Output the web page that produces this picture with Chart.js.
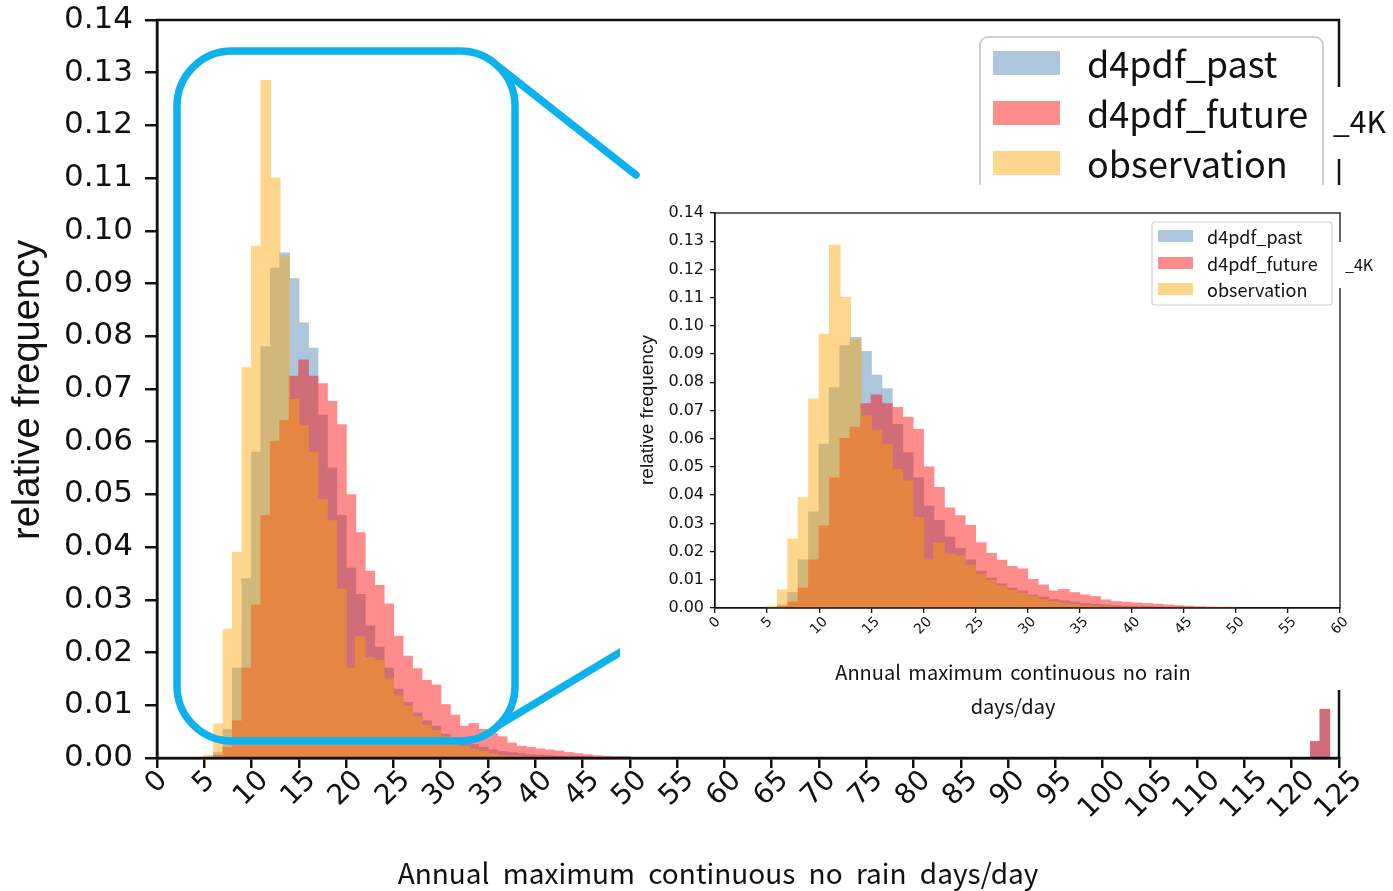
<!DOCTYPE html>
<html>
<head>
<meta charset="utf-8">
<script src="https://cdn.jsdelivr.net/npm/chart.js@4.4.1/dist/chart.umd.min.js"></script>
<style>
  html, body { margin: 0; padding: 0; background: #fff; }
  #wrap { position: relative; width: 1393px; height: 891px; overflow: hidden; background: #fff; }
  #main { position: absolute; left: 0; top: 0; width: 1393px; height: 891px; }
  #inset { position: absolute; left: 620px; top: 185px; width: 773px; height: 540px; }
</style>
</head>
<body>
<div id="wrap">
  <canvas id="main" width="1393" height="891"></canvas>
  <canvas id="inset" width="773" height="540"></canvas>
</div>
<script>
// Histogram bins: left edge of each 1-day bin
const binStart = [5, 6, 7, 8, 9, 10, 11, 12, 13, 14, 15, 16, 17, 18, 19, 20, 21, 22, 23, 24, 25, 26, 27,
                  28, 29, 30, 31, 32, 33, 34, 35, 36, 37, 38, 39, 40, 41, 42, 43, 44, 45, 46, 47, 48, 49];

// Relative frequency per bin
const pastFreq = [0, 0.0010, 0.0054, 0.0170, 0.0340, 0.0580, 0.0780, 0.0929, 0.0958, 0.0909, 0.0825, 0.0777,
                  0.0650, 0.0550, 0.0460, 0.0360, 0.0310, 0.0250, 0.0210, 0.0170, 0.0130, 0.0105, 0.0085,
                  0.0070, 0.0060, 0.0045, 0.0038, 0.0030, 0.0025, 0.0020, 0.0015, 0.0012, 0.0010, 0.0008,
                  0.0006, 0.0005, 0.0004, 0.0003, 0.0002, 0.0002, 0.0001, 0, 0, 0, 0];
const futureFreq = [0, 0.0005, 0.0020, 0.0070, 0.0170, 0.0290, 0.0460, 0.0600, 0.0640, 0.0724, 0.0755, 0.0724,
                    0.0710, 0.0676, 0.0632, 0.0499, 0.0427, 0.0354, 0.0327, 0.0292, 0.0231, 0.0193, 0.0169,
                    0.0147, 0.0138, 0.0101, 0.0081, 0.0060, 0.0065, 0.0054, 0.0046, 0.0040, 0.0028, 0.0022,
                    0.0020, 0.0017, 0.0015, 0.0013, 0.0010, 0.0008, 0.0006, 0.0004, 0.0003, 0.0002, 0.0002];
const obsFreq = [0.0005, 0.0064, 0.0244, 0.0390, 0.0740, 0.0970, 0.1285, 0.1100, 0.0950, 0.0680, 0.0630, 0.0580,
                 0.0490, 0.0450, 0.0320, 0.0170, 0.0230, 0.0190, 0.0185, 0.0150, 0.0118, 0.0098, 0.0078,
                 0.0062, 0.0052, 0.0040, 0.0030, 0.0022, 0.0016, 0.0012, 0.0008, 0.0005, 0.0004, 0.0003,
                 0.0002, 0.0001, 0, 0, 0, 0, 0, 0, 0, 0, 0];

// Far tail of the simulated series
const tailStart = [122, 123];
const pastTail = [0.0031, 0.0092];
const futureTail = [0.0031, 0.0092];

// Axis ticks
const mainXTicks = [0, 5, 10, 15, 20, 25, 30, 35, 40, 45, 50, 55, 60, 65, 70, 75, 80, 85, 90, 95, 100, 105, 110, 115, 120, 125];
const insetXTicks = [0, 5, 10, 15, 20, 25, 30, 35, 40, 45, 50, 55, 60];
const yTicks = [0.00, 0.01, 0.02, 0.03, 0.04, 0.05, 0.06, 0.07, 0.08, 0.09, 0.10, 0.11, 0.12, 0.13, 0.14];

const seriesNames = ['d4pdf_past', 'd4pdf_future', 'observation'];
const scenarioTag = '_4K';
const xTitle = 'Annual maximum continuous no rain days/day';
const xTitleLines = ['Annual maximum continuous no rain', 'days/day'];
const yTitle = 'relative frequency';

// Base colours; each histogram layer is laid down opaque, then blended at ALPHA
const baseColors = ['rgb(70,130,180)', 'rgb(255,0,0)', 'rgb(255,165,0)'];
const ALPHA = 0.45;
const fills = ['rgba(70,130,180,0.45)', 'rgba(255,0,0,0.45)', 'rgba(255,165,0,0.45)'];
const HL = '#0cb1ee';
const LATIN = '"Noto Sans CJK JP", "Noto Sans", sans-serif';
const NUM = '"DejaVu Sans", sans-serif';

function points(starts, vals) {
  return starts.map((s, i) => ({ x: s + 0.5, y: vals[i] }));
}

function buildDatasets(withTail) {
  const sets = [
    { label: seriesNames[0], data: points(binStart, pastFreq).concat(withTail ? points(tailStart, pastTail) : []), order: 3 },
    { label: seriesNames[1], data: points(binStart, futureFreq).concat(withTail ? points(tailStart, futureTail) : []), order: 2 },
    { label: seriesNames[2], data: points(binStart, obsFreq), order: 1 }
  ];
  return sets.map((d, i) => Object.assign(d, {
    backgroundColor: baseColors[i], borderWidth: 0, inflateAmount: 0.6,
    barPercentage: 1, categoryPercentage: 1, grouped: false
  }));
}

// Draw every dataset into its own offscreen layer and blend it as a whole,
// so neighbouring bins do not leave seams between them.
const layerBlend = {
  id: 'layerBlend',
  beforeDatasetDraw(chart, args) {
    if (!chart.$layer) {
      chart.$layer = document.createElement('canvas');
    }
    const L = chart.$layer;
    if (L.width !== chart.canvas.width || L.height !== chart.canvas.height) {
      L.width = chart.canvas.width;
      L.height = chart.canvas.height;
    }
    const lctx = L.getContext('2d');
    lctx.setTransform(1, 0, 0, 1, 0, 0);
    lctx.clearRect(0, 0, L.width, L.height);
    const a = chart.chartArea;
    lctx.save();
    lctx.beginPath();
    lctx.rect(a.left, a.top, a.right - a.left, a.bottom - a.top);
    lctx.clip();
    args.meta.controller._ctx = lctx;
  },
  afterDatasetDraw(chart, args) {
    const lctx = chart.$layer.getContext('2d');
    lctx.restore();
    args.meta.controller._ctx = chart.ctx;
    const ctx = chart.ctx;
    ctx.save();
    ctx.setTransform(1, 0, 0, 1, 0, 0);
    ctx.globalAlpha = ALPHA;
    ctx.drawImage(chart.$layer, 0, 0);
    ctx.restore();
  }
};

function roundRectPath(ctx, x, y, w, h, r) {
  ctx.beginPath();
  ctx.moveTo(x + r, y);
  ctx.lineTo(x + w - r, y);
  ctx.arcTo(x + w, y, x + w, y + r, r);
  ctx.lineTo(x + w, y + h - r);
  ctx.arcTo(x + w, y + h, x + w - r, y + h, r);
  ctx.lineTo(x + r, y + h);
  ctx.arcTo(x, y + h, x, y + h - r, r);
  ctx.lineTo(x, y + r);
  ctx.arcTo(x, y, x + r, y, r);
  ctx.closePath();
}

// Tick labels rotated 45 degrees, centred under each tick
function drawRotatedTicks(ctx, scale, values, size, topY) {
  ctx.save();
  ctx.font = size + 'px ' + NUM;
  ctx.fillStyle = '#111';
  ctx.textAlign = 'center';
  ctx.textBaseline = 'middle';
  values.forEach(v => {
    const txt = String(v);
    const x = scale.getPixelForValue(v);
    const w = ctx.measureText(txt).width;
    const h = size * 0.73;
    const half = (w + h) * Math.SQRT1_2 / 2;
    ctx.save();
    ctx.translate(x, topY + half);
    ctx.rotate(-Math.PI / 4);
    ctx.fillText(txt, 0, 0);
    ctx.restore();
  });
  ctx.restore();
}

function drawLegend(ctx, box, patch, textX, rows, fontSize) {
  ctx.save();
  roundRectPath(ctx, box.x, box.y, box.w, box.h, box.r);
  ctx.fillStyle = '#fff';
  ctx.fill();
  ctx.strokeStyle = '#cfcfcf';
  ctx.lineWidth = box.lw;
  ctx.stroke();
  ctx.font = fontSize + 'px ' + LATIN;
  ctx.textBaseline = 'middle';
  ctx.textAlign = 'left';
  rows.forEach((cy, i) => {
    ctx.fillStyle = fills[i];
    ctx.fillRect(patch.x, cy - patch.h / 2, patch.w, patch.h);
    ctx.fillStyle = '#111';
    ctx.fillText(seriesNames[i], textX, cy + 1);
  });
  ctx.restore();
}

function drawTag(ctx, rect, tx, ty, size) {
  ctx.save();
  ctx.fillStyle = '#fff';
  ctx.fillRect(rect.x, rect.y, rect.w, rect.h);
  ctx.fillStyle = '#111';
  ctx.font = size + 'px ' + LATIN;
  ctx.textAlign = 'left';
  ctx.textBaseline = 'middle';
  ctx.fillText(scenarioTag, tx, ty);
  ctx.restore();
}

function yTitleDraw(ctx, text, cx, cy, size) {
  ctx.save();
  ctx.translate(cx, cy);
  ctx.rotate(-Math.PI / 2);
  ctx.font = size + 'px "Liberation Sans", Arial, sans-serif';
  ctx.fillStyle = '#111';
  ctx.textAlign = 'center';
  ctx.textBaseline = 'middle';
  ctx.fillText(text, 0, 0);
  ctx.restore();
}

function axisCommon(tickLen, lw, fixedSize, isX) {
  return {
    type: 'linear',
    offset: false,
    grid: { display: true, drawOnChartArea: false, drawTicks: true, tickLength: tickLen, color: '#111', lineWidth: lw, offset: false },
    border: { display: true, color: '#111', width: lw },
    afterFit: s => {
      if (isX) { s.height = fixedSize; s.paddingLeft = 0; s.paddingRight = 0; }
      else { s.width = fixedSize; s.paddingTop = 0; s.paddingBottom = 0; }
    }
  };
}

// ---------- main chart ----------
const mainDecor = {
  id: 'mainDecor',
  afterDraw(chart) {
    const ctx = chart.ctx;
    const a = chart.chartArea;
    // frame
    ctx.save();
    ctx.strokeStyle = '#111';
    ctx.lineWidth = 2.5;
    ctx.strokeRect(a.left, a.top, a.right - a.left, a.bottom - a.top);
    ctx.restore();

    drawRotatedTicks(ctx, chart.scales.x, mainXTicks, 28, a.bottom + 11);

    // x title
    ctx.save();
    ctx.font = '28px ' + LATIN;
    ctx.fillStyle = '#111';
    ctx.textAlign = 'center';
    ctx.textBaseline = 'middle';
    if ('wordSpacing' in ctx) ctx.wordSpacing = '7px';
    ctx.fillText(xTitle, 718, 873);
    ctx.restore();

    yTitleDraw(ctx, yTitle, 29, 390, 38);

    drawLegend(ctx, { x: 980, y: 37, w: 343, h: 170, r: 8, lw: 2 }, { x: 993, w: 67, h: 24 }, 1087, [63, 113, 163], 36);
    drawTag(ctx, { x: 1328, y: 87, w: 65, h: 72 }, 1333, 122, 30);

    // highlighted range and its connectors to the zoomed panel
    ctx.save();
    ctx.strokeStyle = HL;
    ctx.lineWidth = 7.5;
    ctx.lineCap = 'round';
    roundRectPath(ctx, 177, 51, 338, 690, 55);
    ctx.stroke();
    ctx.beginPath();
    ctx.moveTo(499, 67);
    ctx.lineTo(636, 175);
    ctx.moveTo(499, 725);
    ctx.lineTo(624, 650);
    ctx.stroke();
    ctx.restore();
  }
};

const mainX = axisCommon(10, 2.5, 133, true);
Object.assign(mainX, {
  min: 0, max: 125,
  afterBuildTicks: s => { s.ticks = mainXTicks.map(v => ({ value: v })); },
  ticks: { display: false }
});
const mainY = axisCommon(12, 2.5, 157, false);
Object.assign(mainY, {
  min: 0, max: 0.14,
  afterBuildTicks: s => { s.ticks = yTicks.map(v => ({ value: v })); },
  ticks: { callback: v => Number(v).toFixed(2), font: { family: NUM, size: 31, lineHeight: 1 }, color: '#111', padding: 12 }
});

new Chart(document.getElementById('main'), {
  type: 'bar',
  data: { datasets: buildDatasets(true) },
  options: {
    responsive: false, animation: false, devicePixelRatio: 1,
    layout: { padding: { left: 0, top: 20, right: 54, bottom: 0 } },
    plugins: { legend: { display: false }, tooltip: { enabled: false } },
    scales: { x: mainX, y: mainY }
  },
  plugins: [layerBlend, mainDecor]
});

// ---------- zoomed panel (0-60 days) ----------
const insetDecor = {
  id: 'insetDecor',
  beforeDraw(chart) {
    const ctx = chart.ctx;
    ctx.save();
    ctx.fillStyle = '#fff';
    ctx.fillRect(0, 0, chart.width, 505);
    ctx.restore();
  },
  afterDraw(chart) {
    const ctx = chart.ctx;
    const a = chart.chartArea;
    ctx.save();
    ctx.strokeStyle = '#111';
    ctx.lineWidth = 1.3;
    ctx.strokeRect(a.left, a.top, a.right - a.left, a.bottom - a.top);
    ctx.restore();

    drawRotatedTicks(ctx, chart.scales.x, insetXTicks, 14, a.bottom + 8);

    ctx.save();
    ctx.font = '20px ' + LATIN;
    ctx.fillStyle = '#111';
    ctx.textAlign = 'center';
    ctx.textBaseline = 'middle';
    if ('wordSpacing' in ctx) ctx.wordSpacing = '3px';
    ctx.fillText(xTitleLines[0], 393, 487);
    ctx.fillText(xTitleLines[1], 393, 521);
    ctx.restore();

    yTitleDraw(ctx, yTitle, 28, 225, 19);

    drawLegend(ctx, { x: 532, y: 37, w: 180, h: 83, r: 3, lw: 1.2 }, { x: 538, w: 35, h: 12 }, 587, [51, 78, 104], 18);
    drawTag(ctx, { x: 716, y: 57, w: 50, h: 46 }, 725, 80, 16);
  }
};

const insetX = axisCommon(5, 1.3, 117, true);
Object.assign(insetX, {
  min: 0, max: 60,
  afterBuildTicks: s => { s.ticks = insetXTicks.map(v => ({ value: v })); },
  ticks: { display: false }
});
const insetY = axisCommon(5, 1.3, 95, false);
Object.assign(insetY, {
  min: 0, max: 0.14,
  afterBuildTicks: s => { s.ticks = yTicks.map(v => ({ value: v })); },
  ticks: { callback: v => Number(v).toFixed(2), font: { family: NUM, size: 16, lineHeight: 1 }, color: '#111', padding: 6 }
});

new Chart(document.getElementById('inset'), {
  type: 'bar',
  data: { datasets: buildDatasets(false) },
  options: {
    responsive: false, animation: false, devicePixelRatio: 1,
    layout: { padding: { left: 0, top: 28, right: 53, bottom: 0 } },
    plugins: { legend: { display: false }, tooltip: { enabled: false } },
    scales: { x: insetX, y: insetY }
  },
  plugins: [layerBlend, insetDecor]
});
</script>
</body>
</html>
